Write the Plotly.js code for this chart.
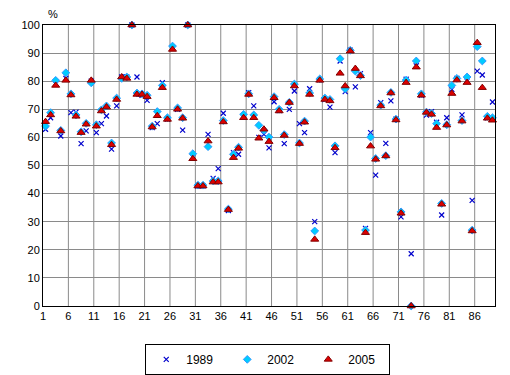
<!DOCTYPE html>
<html>
<head>
<meta charset="utf-8">
<script src="https://cdn.plot.ly/plotly-3.0.1.min.js"></script>
<style>html,body{margin:0;padding:0;background:#fff;}#chart{width:510px;height:375px;}</style>
</head>
<body>
<div id="chart"></div>
<script>
const categories = [];
for (let i = 1; i <= 89; i++) categories.push(i);

const seriesNames = ['1989', '2002', '2005'];

const values1989 = [62.9,67,79,60.5,81,68.8,69,57.8,62.3,80,
  61.7,64.9,67.6,55.8,71.2,81.5,81.5,100,81.5,75,
  73.2,63.5,64.9,79.5,66.5,92,70,62.6,100,53,
  42.7,42.7,61.1,45.4,48.9,68.6,34,54.6,54,67.5,
  75.9,71.2,60,61.1,56.3,72.7,69.5,57.8,70,76.5,
  64.9,61.7,77.3,30,80.5,73.5,70.8,54.6,87.2,76.3,
  91,78,82.7,27.6,61.7,46.6,72.4,57.9,73,66.5,
  31.7,80.7,18.6,85.5,75,67.9,69.2,65.4,32.4,67,
  77.1,81,68,80,37.6,83.6,82.2,67,72.6];

const values2002 = [64,68.8,80.3,62.5,83,75.5,68,62,65,79.4,
  64.5,69.8,71.2,58,74,81,81.5,100,75.8,75.5,
  75,64,69.2,78.5,67,92.5,70.5,67,100,54.2,
  43,43,56.7,44.5,44.5,66,34.5,54,56.5,68.2,
  75.5,68,64.3,62.5,60.1,74.5,70,61,72.5,79,
  58,65.8,75.8,26.7,80.8,74,73.5,57,88,77.3,
  91,83.6,82,27,60.1,52.5,71.5,53.5,76,66.5,
  33.5,80.4,0,87.2,75.5,69,68.5,64.9,36.5,64.5,
  78.5,81,66,81.5,27,92.3,87.2,67.5,67];

const values2005 = [65.6,68,78.5,62.3,80.3,75.1,67.5,61.7,64.7,80.3,
  64,69.4,70.8,57.4,73.5,81.5,81,100,75.3,75.3,
  74.5,63.7,67.7,77.7,66.4,91.3,70,66.8,100,52.4,
  42.7,42.7,58.7,44.1,44.1,65.5,34.3,52.8,56.1,67,
  75.3,67,59.7,62.9,58.5,74.1,69.4,60.7,72.4,78.3,
  57.8,65.4,75.3,23.7,80.3,73.5,73,56.3,82.8,78.3,
  90.7,84.5,81.9,26.1,56.9,52.2,71.2,53.4,75.8,66.2,
  33,79.5,0,85,75,68.9,68.2,63.5,36.2,64.4,
  75.6,80.4,65.8,79.5,26.7,93.7,77.7,66.8,66.1];

const xTickLabels = ['1','6','11','16','21','26','31','36','41','46','51','56','61','66','71','76','81','86'];
const yTickVals = [0,10,20,30,40,50,60,70,80,90,100];
// Vertical gridlines sit on category boundaries before categories 1, 6, 11, ...
const xGridVals = xTickLabels.map(s => Number(s) - 0.5);

const FONT = 'Liberation Sans';

const W = 510, H = 375;
const M = {l: 43, r: 15, t: 25, b: 69};
const xRange = [0.5, 89.5];
const yRange = [0, 100];
const halfCategoryPx = (W - M.l - M.r) / (xRange[1] - xRange[0]) / 2;

// Dashed black gridlines do not render here, so a mid-grey solid line stands in for them.
const GRID = '#8a8a8a';

// Vertical gridlines as shapes placed on the category boundaries
const shapes = xGridVals.slice(1).map(v => ({
  type: 'line', layer: 'below', xref: 'x', yref: 'paper',
  x0: v, x1: v, y0: 0, y1: 1, line: {color: GRID, width: 1}
}));

const traces = [
  {
    x: categories, y: values1989, name: seriesNames[0], type: 'scatter', mode: 'markers',
    marker: {symbol: 'x-thin', size: 5, line: {color: '#0000CC', width: 1.2}, color: '#0000CC'},
    cliponaxis: false
  },
  {
    x: categories, y: values2002, name: seriesNames[1], type: 'scatter', mode: 'markers',
    marker: {symbol: 'diamond', size: 6, color: '#00CCFF', line: {color: '#3399FF', width: 1}},
    cliponaxis: false
  },
  {
    x: categories, y: values2005, name: seriesNames[2], type: 'scatter', mode: 'markers',
    marker: {symbol: 'triangle-up', size: 7, color: '#DD0000', line: {color: '#800000', width: 1}},
    cliponaxis: false
  }
];

const layout = {
  width: W, height: H,
  margin: M,
  paper_bgcolor: '#ffffff', plot_bgcolor: '#ffffff',
  font: {family: FONT, size: 11, color: '#000000'},
  showlegend: true,
  shapes: shapes,
  xaxis: {
    range: xRange, tickmode: 'array', tickvals: xGridVals, ticktext: xTickLabels,
    ticklabelshift: halfCategoryPx,
    showgrid: false, zeroline: false, showline: true, linecolor: '#000000', linewidth: 1,
    mirror: 'all', ticks: '', automargin: false,
    tickfont: {family: FONT, size: 11, color: '#000000'}
  },
  yaxis: {
    range: yRange, tickmode: 'array', tickvals: yTickVals,
    showgrid: true, gridcolor: GRID, gridwidth: 1,
    zeroline: false, showline: true, linecolor: '#000000', linewidth: 1, mirror: 'all',
    ticks: '', automargin: false,
    tickfont: {family: FONT, size: 11, color: '#000000'}
  },
  legend: {
    orientation: 'h', xref: 'container', yref: 'container',
    x: 0.525, xanchor: 'center', y: 0.083, yanchor: 'top',
    bordercolor: '#000000', borderwidth: 1, bgcolor: '#ffffff',
    font: {family: FONT, size: 12, color: '#000000'},
    entrywidth: 36, itemwidth: 30, tracegroupgap: 0
  },
  annotations: [
    {text: '%', xref: 'paper', yref: 'paper', x: 0.022, y: 1.039, xanchor: 'center', yanchor: 'middle',
     showarrow: false, font: {family: FONT, size: 11, color: '#000000'}}
  ]
};

Plotly.newPlot('chart', traces, layout, {displayModeBar: false});
</script>
</body>
</html>
